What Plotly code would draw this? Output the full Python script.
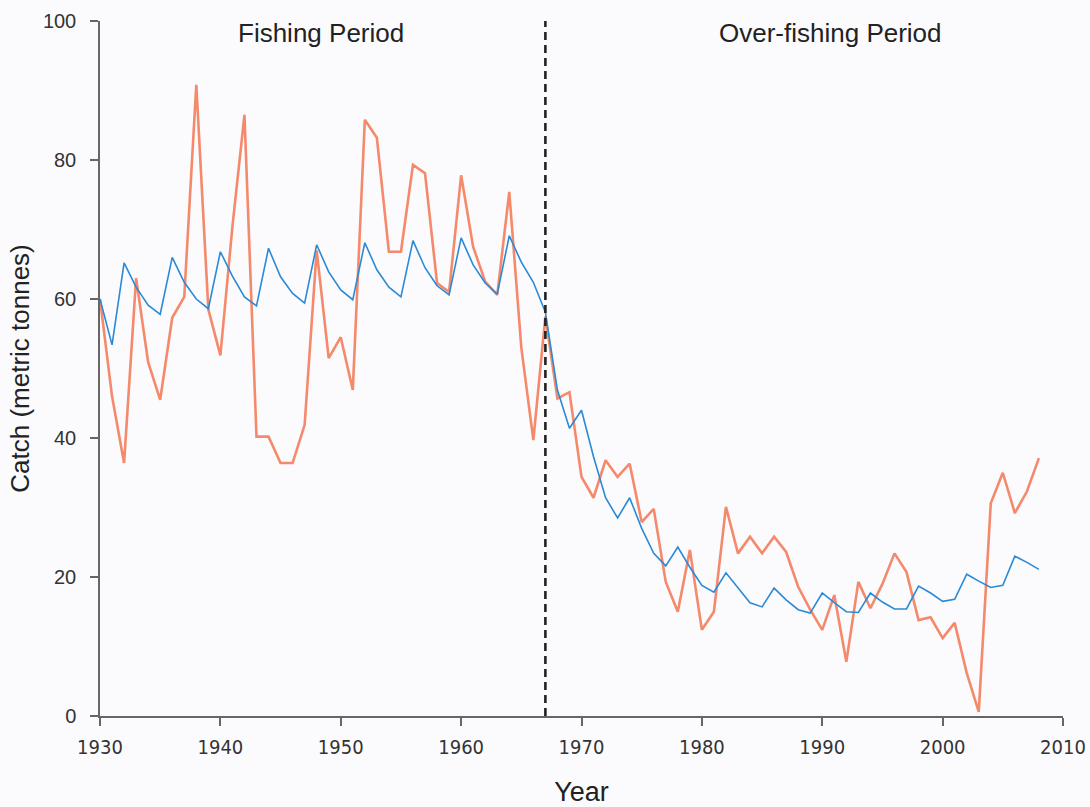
import plotly.graph_objects as go

years = list(range(1930, 2009))

catch_observed = [
    60.0, 46.0, 36.4, 63.0, 50.9, 45.5, 57.3, 60.3, 90.8, 58.5,
    51.9, 70.4, 86.5, 40.2, 40.2, 36.4, 36.4, 41.9, 67.0, 51.5,
    54.5, 46.9, 85.8, 83.2, 66.8, 66.8, 79.3, 78.1, 62.3, 61.0,
    77.8, 67.5, 62.5, 60.6, 75.4, 53.0, 39.7, 57.5, 45.7, 46.6,
    34.4, 31.4, 36.8, 34.4, 36.3, 27.9, 29.8, 19.3, 15.0, 23.9,
    12.4, 15.0, 30.1, 23.4, 25.8, 23.4, 25.8, 23.6, 18.6, 15.3,
    12.4, 17.4, 7.8, 19.3, 15.5, 19.0, 23.4, 20.7, 13.8, 14.2,
    11.2, 13.4, 6.2, 0.6, 30.6, 35.0, 29.2, 32.3, 37.1,
]

catch_model = [
    60.0, 53.4, 65.2, 61.7, 59.1, 57.8, 66.0, 62.4, 60.0, 58.6,
    66.8, 63.3, 60.3, 59.0, 67.3, 63.2, 60.8, 59.4, 67.8, 63.9,
    61.3, 59.9, 68.1, 64.2, 61.7, 60.3, 68.4, 64.5, 61.9, 60.6,
    68.8, 64.9, 62.3, 60.7, 69.1, 65.3, 62.4, 58.1, 46.9, 41.4,
    44.0, 37.3, 31.4, 28.5, 31.4, 27.0, 23.4, 21.6, 24.3, 21.4,
    18.8, 17.8, 20.6, 18.4, 16.3, 15.7, 18.4, 16.7, 15.3, 14.8,
    17.7, 16.3, 15.0, 14.9, 17.7, 16.4, 15.4, 15.4, 18.7, 17.7,
    16.5, 16.8, 20.4, 19.4, 18.5, 18.8, 23.0, 22.1, 21.1,
]

split_year = 1967
x_ticks = [1930, 1940, 1950, 1960, 1970, 1980, 1990, 2000, 2010]
y_ticks = [0, 20, 40, 60, 80, 100]
period_labels = ["Fishing Period", "Over-fishing Period"]
period_label_x = [1948.4, 1990.7]

bg = "#fbfbfe"
font_main = "Liberation Sans, Arial, sans-serif"
font_narrow = "Liberation Sans Narrow, Arial Narrow, DejaVu Sans Condensed, Liberation Sans, sans-serif"

fig = go.Figure()

fig.add_trace(go.Scatter(
    x=years, y=catch_observed, mode="lines",
    line=dict(color="#f48a6b", width=2.6), showlegend=False,
))
fig.add_trace(go.Scatter(
    x=years, y=catch_model, mode="lines",
    line=dict(color="#2a8ad6", width=1.6), showlegend=False,
))

fig.add_shape(
    type="line", x0=split_year, x1=split_year, y0=0, y1=100,
    xref="x", yref="y", line=dict(color="#222222", width=2.6, dash="8px,5px"),
)

for lbl, lx in zip(period_labels, period_label_x):
    fig.add_annotation(
        x=lx, y=98.3, xref="x", yref="y", text=lbl, showarrow=False,
        font=dict(family=font_main, size=26, color="#222222"),
    )

fig.update_layout(
    width=1090, height=807,
    margin=dict(l=100, r=27, t=21, b=91, autoexpand=False),
    paper_bgcolor=bg, plot_bgcolor=bg,
    font=dict(family=font_main, size=20, color="#333333"),
    xaxis=dict(
        range=[1930, 2010], tickvals=x_ticks, showgrid=False, zeroline=False,
        showline=True, linecolor="#666666", linewidth=1.5, automargin=False,
        ticks="outside", ticklen=8, tickcolor="#666666", tickwidth=1.5,
        tickfont=dict(family=font_narrow, size=20, color="#333333"),
        ticklabelstandoff=4, ticklabeloverflow="allow",
        title=dict(text="Year", font=dict(family=font_main, size=27, color="#222222"), standoff=30),
    ),
    yaxis=dict(
        range=[0, 100], tickvals=y_ticks, showgrid=False, zeroline=False,
        showline=True, linecolor="#666666", linewidth=1.5, automargin=False,
        ticks="outside", ticklen=8, tickcolor="#666666", tickwidth=1.5,
        tickfont=dict(family=font_main, size=20, color="#333333"),
        ticklabelstandoff=10, ticklabeloverflow="allow",
        title=dict(text="Catch (metric tonnes)", font=dict(family=font_main, size=26, color="#222222"), standoff=6),
    ),
)

fig.write_html(
    "out.html",
    config={"displayModeBar": False},
    post_script="document.body.style.margin='0';document.body.style.background='#fbfbfe';",
)
